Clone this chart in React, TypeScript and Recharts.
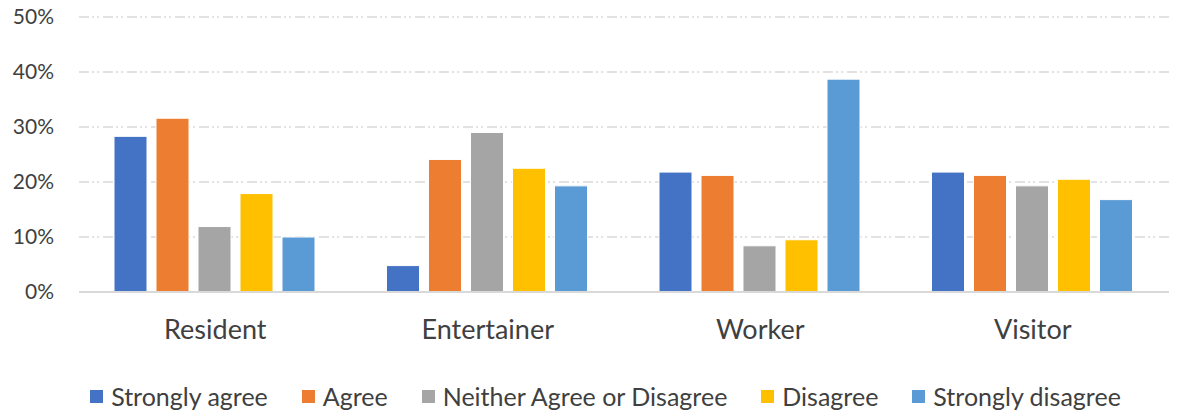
import { BarChart, Bar, XAxis, YAxis, CartesianGrid, Legend } from "recharts";

const categories = ["Resident", "Entertainer", "Worker", "Visitor"];
const stronglyAgree = [28.3, 4.8, 21.8, 21.8];
const agree = [31.6, 24.1, 21.2, 21.2];
const neither = [11.9, 29.0, 8.4, 19.3];
const disagree = [17.9, 22.5, 9.5, 20.5];
const stronglyDisagree = [10.0, 19.3, 38.7, 16.8];
const yTicks = [0, 10, 20, 30, 40, 50];

const series = [
  { key: "sa", name: "Strongly agree", color: "#4472c4", values: stronglyAgree },
  { key: "a", name: "Agree", color: "#ed7d31", values: agree },
  { key: "n", name: "Neither Agree or Disagree", color: "#a5a5a5", values: neither },
  { key: "d", name: "Disagree", color: "#ffc000", values: disagree },
  { key: "sd", name: "Strongly disagree", color: "#5b9bd5", values: stronglyDisagree },
];

const data = categories.map((name, i) => {
  const row: Record<string, string | number> = { name };
  series.forEach((s) => (row[s.key] = s.values[i]));
  return row;
});

const font = "Lato, 'Noto Sans', sans-serif";

function LegendRow() {
  return (
    <div
      style={{
        height: 50,
        display: "flex",
        alignItems: "flex-end",
        justifyContent: "center",
        fontFamily: font,
        fontSize: 25,
        color: "#404040",
        paddingLeft: 42,
        paddingBottom: 2,
        boxSizing: "border-box",
      }}
    >
      {series.map((s) => (
        <div key={s.key} style={{ display: "flex", alignItems: "center", margin: "0 17px", lineHeight: "28px" }}>
          <span style={{ width: 13, height: 13, background: s.color, display: "inline-block", marginRight: 8 }} />
          {s.name}
        </div>
      ))}
    </div>
  );
}

export default function App() {
  return (
    <div style={{ position: "absolute", left: 0, top: 0, width: 1178, height: 412, background: "#fff" }}>
      <BarChart
        width={1178}
        height={412}
        data={data}
        margin={{ top: 17, right: 9, left: 0, bottom: 0 }}
        barCategoryGap={35}
        barGap={9}
      >
        <CartesianGrid
          vertical={false}
          stroke="#d9d9d9"
          strokeWidth={1.5}
          strokeDasharray="10 3 2 3 2 4"
        />
        <XAxis
          dataKey="name"
          height={70}
          tickLine={false}
          axisLine={{ stroke: "#d9d9d9", strokeWidth: 2 }}
          tickMargin={22}
          tick={{ fill: "#404040", fontSize: 27, fontFamily: font }}
        />
        <YAxis
          width={79}
          domain={[0, 50]}
          ticks={yTicks}
          tickFormatter={(v: number) => `${v}%`}
          tickLine={false}
          axisLine={false}
          tickMargin={19}
          tick={{ fill: "#404040", fontSize: 21, fontFamily: font }}
        />
        <Legend verticalAlign="bottom" height={50} content={() => <LegendRow />} />
        {series.map((s) => (
          <Bar
            key={s.key}
            dataKey={s.key}
            name={s.name}
            fill={s.color}
            stroke="#ffffff"
            strokeWidth={1}
            isAnimationActive={false}
          />
        ))}
      </BarChart>
    </div>
  );
}
